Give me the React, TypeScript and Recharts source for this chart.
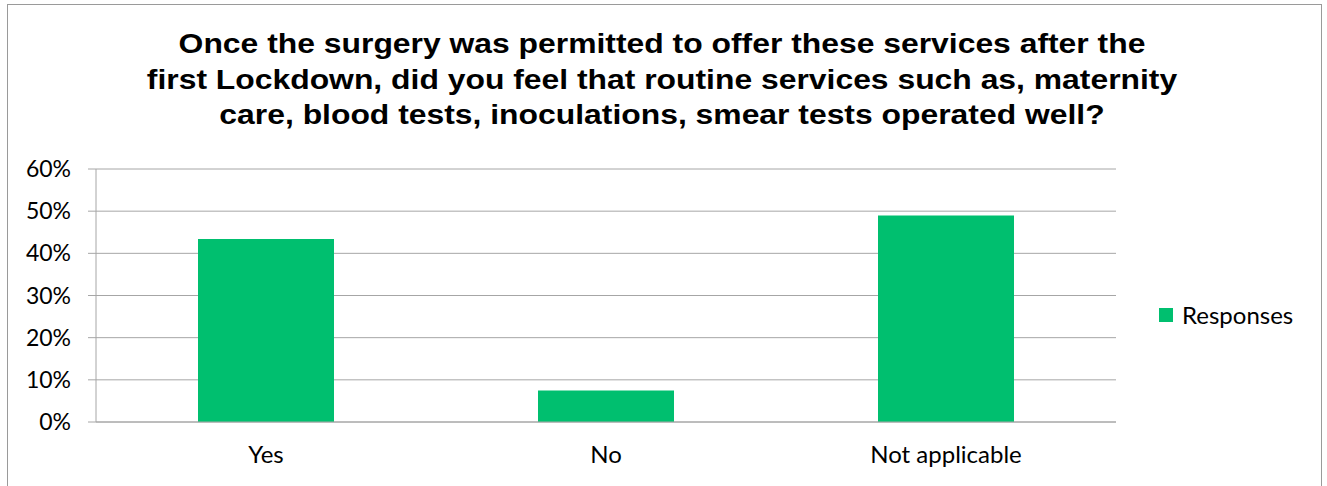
import { Bar, BarChart, CartesianGrid, Legend, XAxis, YAxis } from "recharts";

const categories = ["Yes", "No", "Not applicable"];
const responses = [0.434, 0.075, 0.49];
const yTicks = [0, 0.1, 0.2, 0.3, 0.4, 0.5, 0.6];
const boundaryTicks = [0, 1, 2, 3];

const titleLines = [
  "Once the surgery was permitted to offer these services after the",
  "first Lockdown, did you feel that routine services such as, maternity",
  "care, blood tests, inoculations, smear tests operated well?",
];

const data = categories.map((name, i) => ({ name, Responses: responses[i], idx: i + 0.5 }));

const GREEN = "#00bf6f";
const GRID = "#a6a6a6";
const LABEL_FONT = "Lato, 'Open Sans', sans-serif";

export default function App() {
  const pct = (v: number) => `${Math.round(v * 100)}%`;

  const renderLegend = (props: any) => {
    const items = props.payload || [];
    return (
      <div>
        {items.map((it: any) => (
          <div key={it.value} style={{ display: "flex", alignItems: "center" }}>
            <span style={{ display: "inline-block", width: 14, height: 14, background: it.color, marginRight: 9 }} />
            <span style={{ color: "#000", fontSize: 24, fontFamily: LABEL_FONT }}>{it.value}</span>
          </div>
        ))}
      </div>
    );
  };

  return (
    <div style={{ position: "absolute", left: 0, top: 0, width: 1327, height: 486, background: "#fff", overflow: "hidden" }}>
      <div
        style={{
          position: "absolute",
          left: 7,
          top: 4,
          width: 1313,
          height: 520,
          border: "1px solid #9a9a9a",
        }}
      />
      <div
        style={{
          position: "absolute",
          left: 0,
          top: 27,
          width: 1324,
          textAlign: "center",
          fontFamily: "'Liberation Sans', Arial, sans-serif",
          fontWeight: "bold",
          fontSize: 27,
          lineHeight: "35.5px",
          color: "#000",
          whiteSpace: "nowrap",
          transform: "scaleX(1.18)",
          transformOrigin: "662px 0",
        }}
      >
        {titleLines.map((l) => (
          <div key={l}>{l}</div>
        ))}
      </div>
      <div style={{ position: "absolute", left: 0, top: 0 }}>
        <BarChart
          width={1327}
          height={486}
          data={data}
          margin={{ top: 169, right: 211, left: 36, bottom: 34 }}
          barCategoryGap="30%"
        >
          <CartesianGrid vertical={false} stroke={GRID} strokeWidth={1} />
          <XAxis
            dataKey="name"
            xAxisId="cat"
            height={30}
            axisLine={{ stroke: GRID }}
            tickLine={false}
            tick={{ fontSize: 24, fill: "#000", fontFamily: LABEL_FONT }}
            tickMargin={18}
          />
          <XAxis
            xAxisId="edge"
            type="number"
            dataKey="idx"
            domain={[0, 3]}
            ticks={boundaryTicks}
            height={0}
            axisLine={false}
            tickLine={{ stroke: GRID }}
            tickSize={8}
            tick={false}
          />
          <YAxis
            width={60}
            domain={[0, 0.6]}
            ticks={yTicks}
            tickFormatter={pct}
            axisLine={{ stroke: GRID }}
            tickLine={{ stroke: GRID }}
            tickSize={8}
            tickMargin={17}
            tick={{ fontSize: 23, fill: "#000", fontFamily: LABEL_FONT }}
          />
          <Legend
            layout="vertical"
            align="center"
            verticalAlign="middle"
            content={renderLegend}
            wrapperStyle={{ position: "absolute", left: 1159, top: 300, width: 160 }}
          />
          <Bar dataKey="Responses" xAxisId="cat" fill={GREEN} isAnimationActive={false} />
        </BarChart>
      </div>
    </div>
  );
}
